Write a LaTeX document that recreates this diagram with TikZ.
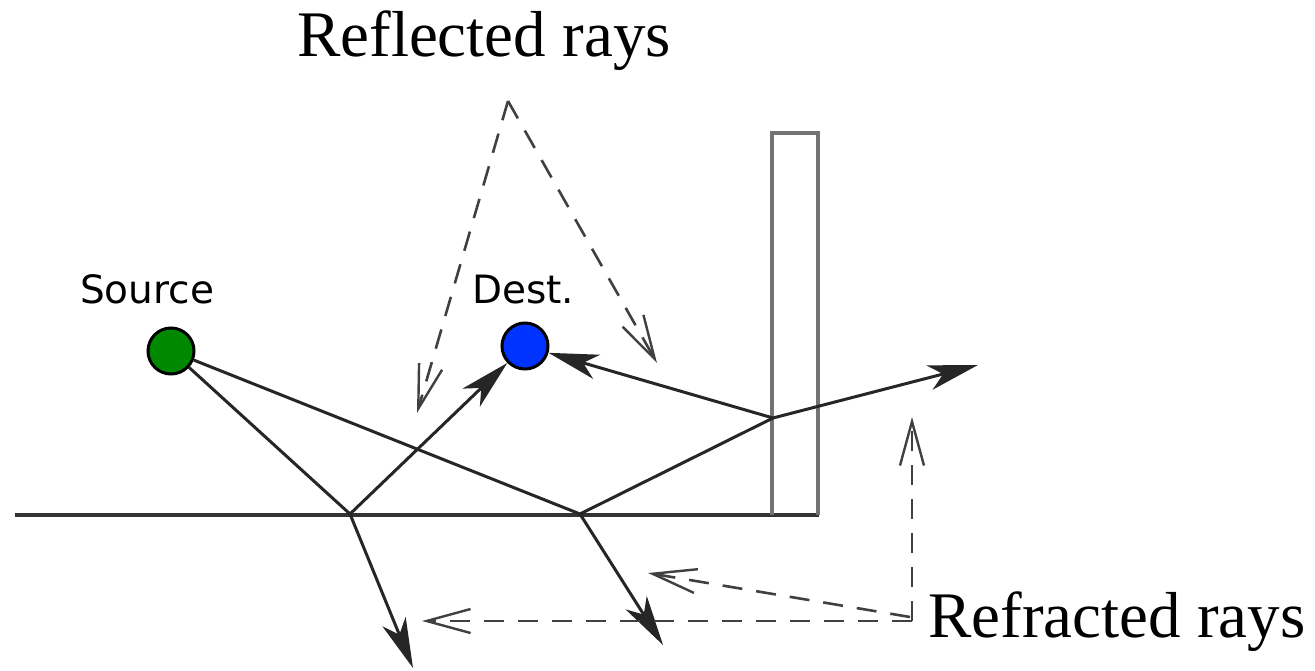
\documentclass[tikz,border=0pt]{standalone}
\usepackage{fontspec}
\setmainfont{Liberation Serif}
\newfontfamily\labelfont{DejaVu Sans}
\usetikzlibrary{arrows.meta}
\definecolor{srcgreen}{RGB}{0,136,0}
\definecolor{dstblue}{RGB}{0,51,255}
\begin{document}
\begin{tikzpicture}[x=1pt,y=-1pt,
  ray/.style={line width=3pt,draw=black!85},
  raytip/.style={-{Stealth[length=50pt,width=25pt,inset=14pt]}},
  wallline/.style={line width=3.2pt,draw=black!55},
  groundline/.style={line width=3.2pt,draw=black!80},
  hint/.style={line width=2.6pt,draw=black!75,dash pattern=on 20pt off 14pt},
  hinttip/.style={-{Straight Barb[length=44pt,width=24pt,line width=2.4pt]}},
  station/.style={circle,draw=black,line width=3pt,minimum size=46pt,inner sep=0pt},
  caption/.style={anchor=base west,inner sep=0pt,font=\fontsize{65}{70}\selectfont},
  tag/.style={anchor=base west,inner sep=0pt,font=\labelfont\fontsize{39}{44}\selectfont}]
\useasboundingbox (0,0) rectangle (1315,671);
% ground and wall
\coordinate (g0) at (15,515);
\coordinate (g1) at (819,515);
\draw[groundline] (g0) -- (g1);
\draw[wallline] (772,515) -- (772,133) -- (818,133) -- (818,515);
% points
\coordinate (A) at (350,514);
\coordinate (B) at (580,514);
\coordinate (W) at (773,418);
\coordinate (Aend) at (413,668);
\coordinate (Bend) at (663,645);
\coordinate (Wend) at (978,365);
\node[station,fill=srcgreen] (src) at (171,351) {};
\node[station,fill=dstblue] (dst) at (525,346) {};
% labels
\node[tag] (srclbl) at (80,303) {Source};
\node[tag] (dstlbl) at (472,303) {Dest.};
\node[caption] (refl) at (297,57) {Reflected rays};
\node[caption] (refr) at (928,637) {Refracted rays};
% rays
\draw[ray] (src) -- (A);
\draw[ray] (src) -- (B);
\draw[ray] (B) -- (W);
\draw[ray,raytip] (A) -- (dst);
\draw[ray,raytip] (W) -- (dst);
\draw[ray,raytip] (W) -- (Wend);
\draw[ray,raytip] (A) -- (Aend);
\draw[ray,raytip] (B) -- (Bend);
% reflected rays hints
\coordinate (apex) at (508,101);
\coordinate (rl) at (417,413);
\coordinate (rr) at (657,363);
\draw[hint,hinttip] (apex) -- (rl);
\draw[hint,hinttip] (apex) -- (rr);
% refracted rays hints
\coordinate (rc) at (912,621);
\coordinate (rc2) at (910,617);
\coordinate (rup) at (912,417);
\coordinate (rmid) at (648,573);
\coordinate (rlow) at (422,621);
\draw[hint,hinttip] (rc) -- (rup);
\draw[hint,hinttip] (rc2) -- (rmid);
\draw[hint,hinttip] (rc) -- (rlow);
\end{tikzpicture}
\end{document}
